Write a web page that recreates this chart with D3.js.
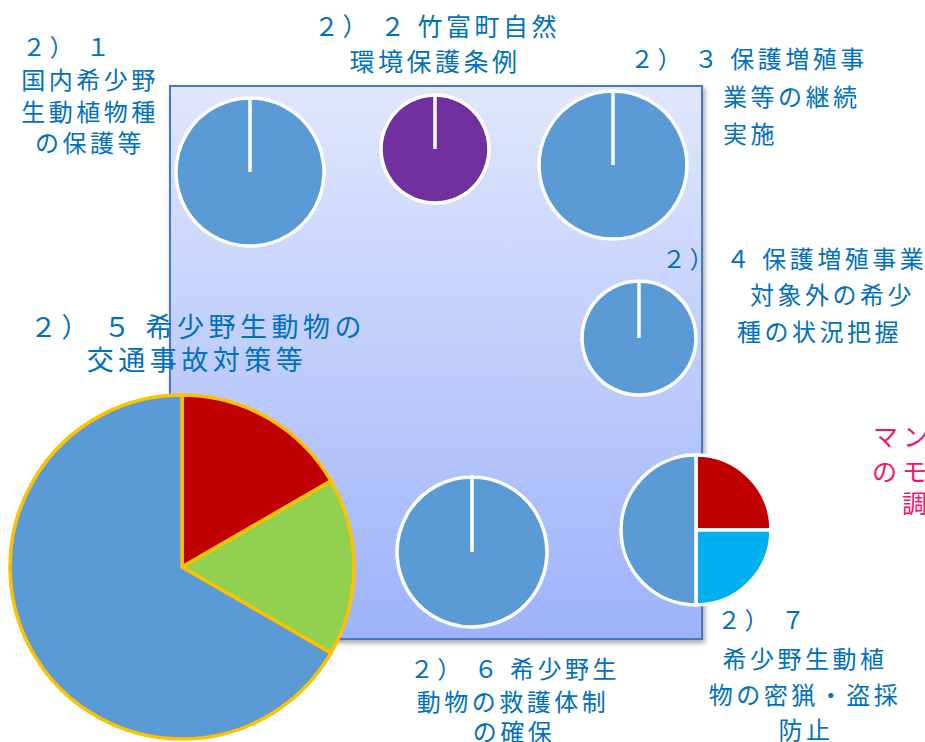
<!DOCTYPE html>
<html>
<head>
<meta charset="utf-8">
<script src="https://cdn.jsdelivr.net/npm/d3@7"></script>
<style>
  body { margin: 0; background: #fff; overflow: hidden; }
  text { font-family: "Noto Sans CJK JP", sans-serif; }
</style>
</head>
<body>
<div id="chart"></div>
<script>
// one pie per measure
const pieIds = ["2)1", "2)2", "2)3", "2)4", "2)5", "2)6", "2)7"]
const pie1 = [1]
const pie2 = [1]
const pie3 = [1]
const pie4 = [1]
const pie5 = [1, 1, 4]
const pie6 = [1]
const pie7 = [1, 1, 2]

const label1 = ["２） １", "国内希少野", "生動植物種", "の保護等"]
const label2 = ["２） ２ 竹富町自然", "環境保護条例"]
const label3 = ["２） ３ 保護増殖事", "業等の継続", "実施"]
const label4 = ["２） ４ 保護増殖事業", "対象外の希少", "種の状況把握"]
const label5 = ["２） ５ 希少野生動物の", "交通事故対策等"]
const label6 = ["２） ６ 希少野生", "動物の救護体制", "の確保"]
const label7 = ["２） ７", "希少野生動植", "物の密猟・盗採", "防止"]
const sideNote = ["マン", "のモ", "調"]

const width = 925, height = 742

const svg = d3.select("#chart").append("svg")
  .attr("width", width)
  .attr("height", height)

const defs = svg.append("defs")
const grad = defs.append("linearGradient")
  .attr("id", "bg").attr("x1", 0).attr("y1", 0).attr("x2", 0).attr("y2", 1)
grad.append("stop").attr("offset", "0%").attr("stop-color", "#e0e7fc")
grad.append("stop").attr("offset", "100%").attr("stop-color", "#9db3fa")

const shadow = defs.append("filter").attr("id", "shadow")
  .attr("x", "-5%").attr("y", "-5%").attr("width", "115%").attr("height", "115%")
shadow.append("feDropShadow")
  .attr("dx", 2).attr("dy", 3).attr("stdDeviation", 2.5)
  .attr("flood-color", "#000").attr("flood-opacity", 0.35)

// backdrop panel
svg.append("rect")
  .attr("x", 170).attr("y", 86)
  .attr("width", 532).attr("height", 553)
  .attr("fill", "url(#bg)")
  .attr("stroke", "#4a76c6")
  .attr("stroke-width", 2)
  .attr("filter", "url(#shadow)")

const blue = "#5b9bd5"
const pies = [
  {data: pie1, cx: 250, cy: 172, r: 74, colors: [blue], line: "#fff"},
  {data: pie2, cx: 435, cy: 149, r: 54, colors: ["#7030a0"], line: "#fff"},
  {data: pie3, cx: 613, cy: 165, r: 74, colors: [blue], line: "#fff"},
  {data: pie4, cx: 639, cy: 338, r: 57, colors: [blue], line: "#fff"},
  {data: pie5, cx: 182, cy: 567, r: 172, colors: ["#c00000", "#92d050", blue], line: "#ffc000"},
  {data: pie6, cx: 472, cy: 552, r: 75, colors: [blue], line: "#fff"},
  {data: pie7, cx: 696, cy: 530, r: 75, colors: ["#c00000", "#00b0f0", blue], line: "#fff"}
]

// stop just short of a full turn so single slices keep their radius line
const pie = d3.pie().sort(null).startAngle(0).endAngle(2 * Math.PI - 1e-4)

pies.forEach((p, i) => {
  const arc = d3.arc().innerRadius(0).outerRadius(p.r)
  svg.append("g")
    .attr("class", "pie-" + pieIds[i])
    .attr("transform", `translate(${p.cx},${p.cy})`)
    .selectAll("path")
    .data(pie(p.data))
    .join("path")
    .attr("d", arc)
    .attr("fill", (d, j) => p.colors[j])
    .attr("stroke", p.line)
    .attr("stroke-width", 3.5)
    .attr("stroke-linejoin", "miter")
})

// label placement: [x, y, anchor] per line
const labels = [
  {lines: label1, size: 24, pos: [[22, 45, "start"], [90, 78, "middle"], [90, 110, "middle"], [90, 141, "middle"]]},
  {lines: label2, size: 25, pos: [[437, 25, "middle"], [435, 60, "middle"]]},
  {lines: label3, size: 24, pos: [[630, 57, "start"], [723, 95, "start"], [723, 132, "start"]]},
  {lines: label4, size: 24, pos: [[662, 257, "start"], [750, 293, "start"], [737, 330, "start"]]},
  {lines: label5, size: 27, pos: [[198, 325, "middle"], [197, 358, "middle"]]},
  {lines: label6, size: 24, pos: [[515, 667, "middle"], [513, 700, "middle"], [514, 730, "middle"]]},
  {lines: label7, size: 24, pos: [[717, 618, "start"], [805, 657, "middle"], [805, 693, "middle"], [806, 728, "middle"]]}
]

labels.forEach(l => {
  l.lines.forEach((t, i) => {
    const [x, y, anchor] = l.pos[i]
    svg.append("text")
      .attr("x", x).attr("y", y)
      .attr("text-anchor", anchor)
      .attr("dominant-baseline", "central")
      .attr("font-size", l.size)
      .attr("letter-spacing", l.size > 25 ? 4.5 : 3.5)
      .attr("fill", "#0070c0")
      .text(t)
  })
})

const notePos = [[873, 435], [872, 470], [902, 502]]
sideNote.forEach((t, i) => {
  svg.append("text")
    .attr("x", notePos[i][0]).attr("y", notePos[i][1])
    .attr("dominant-baseline", "central")
    .attr("font-size", 25)
    .attr("letter-spacing", 5)
    .attr("fill", "#f0146e")
    .text(t)
})
</script>
</body>
</html>
